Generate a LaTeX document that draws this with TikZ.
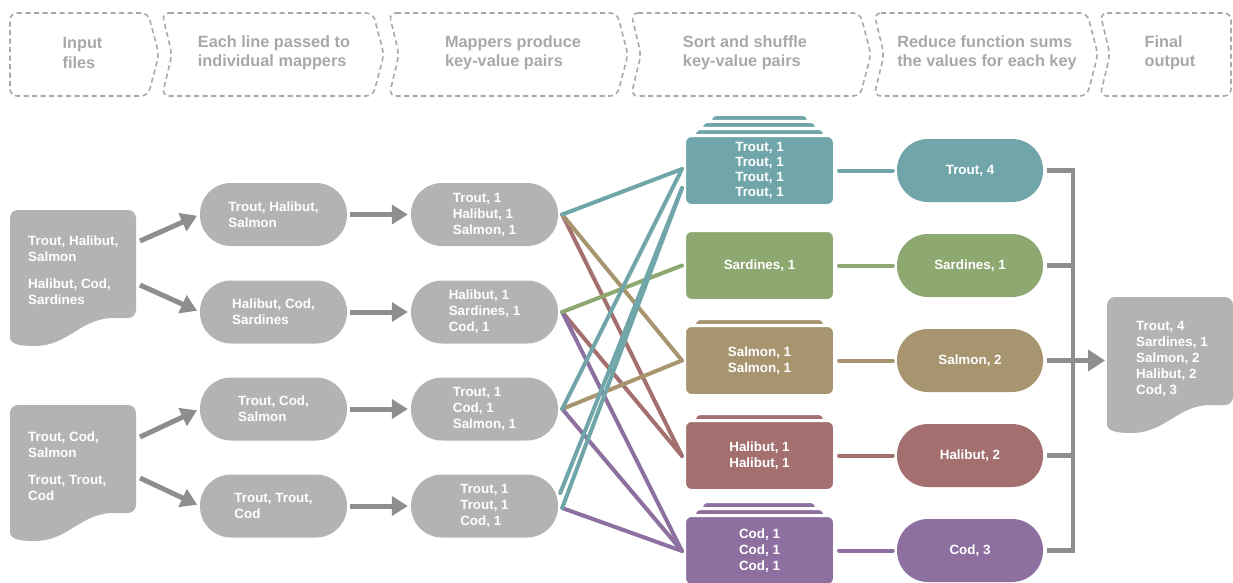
\documentclass[tikz,border=0pt]{standalone}
\usepackage{fontspec}
\setmainfont{Liberation Sans}
\usetikzlibrary{calc,arrows.meta}
\definecolor{ngray}{HTML}{B3B3B3}
\definecolor{agray}{HTML}{8E8E8E}
\definecolor{hgray}{HTML}{A8A8A8}
\definecolor{cteal}{HTML}{70A6AA}
\definecolor{cgreen}{HTML}{8DA870}
\definecolor{ctan}{HTML}{A6956F}
\definecolor{crose}{HTML}{A4706F}
\definecolor{cpurp}{HTML}{8D70A0}
\begin{document}
\begin{tikzpicture}[x=1pt,y=-1pt,
  hdr/.style={draw=hgray, line width=1.6pt, dash pattern=on 5pt off 3.5pt, rounded corners=7pt},
  hdrtext/.style={text=hgray, font=\fontsize{16.3}{19.5}\selectfont\bfseries, align=left, inner sep=0pt},
  nfont/.style={font=\fontsize{13.4}{16}\selectfont\bfseries},
  pill/.style={fill=ngray, rounded corners=31pt, minimum width=147pt, minimum height=63pt,
    text=white, nfont, align=left, inner sep=0pt},
  rpill/.style={fill=#1, rounded corners=31pt, minimum width=146pt, minimum height=63pt,
    text=white, nfont, align=center, inner sep=0pt},
  sbox/.style={fill=#1, draw=white, line width=3pt, rounded corners=7pt, minimum width=150pt,
    minimum height=70pt, text=white, nfont, align=center, inner sep=0pt},
  layer/.style={fill=#1, draw=white, line width=3pt, rounded corners=6pt},
  doctext/.style={text=white, nfont, align=left, inner sep=0pt},
  garrow/.style={draw=agray, line width=5pt, -{Triangle[length=16pt,width=19pt]}},
  cline/.style={draw=#1, line width=4pt, line cap=round},
  bline/.style={draw=agray, line width=4.5pt},
  docshape/.pic={\fill[ngray] (0,127) -- (0,8) .. controls (0,3.6) and (3.6,0) .. (8,0)
     -- (118,0) .. controls (122.4,0) and (126,3.6) .. (126,8)
     -- (126,100) .. controls (126,104.4) and (122.4,108) .. (118,108)
     -- (106,108) .. controls (70,107) and (60,136) .. (24,136)
     .. controls (9,136) and (0,134) .. (0,127) -- cycle;}
]
\useasboundingbox (0,0) rectangle (1233,583);

% header chevrons
\draw[hdr] (10,13) -- (148,13) -- (159,54.5) -- (148,96) -- (10,96) -- cycle;
\draw[hdr] (162,13) -- (373,13) -- (384,54.5) -- (373,96) -- (162,96) -- (172,54.5) -- cycle;
\draw[hdr] (389,13) -- (617,13) -- (628,54.5) -- (617,96) -- (389,96) -- (399,54.5) -- cycle;
\draw[hdr] (631,13) -- (860,13) -- (871,54.5) -- (860,96) -- (631,96) -- (641,54.5) -- cycle;
\draw[hdr] (874,13) -- (1087,13) -- (1098,54.5) -- (1087,96) -- (874,96) -- (884,54.5) -- cycle;
\draw[hdr] (1100,13) -- (1231,13) -- (1231,96) -- (1100,96) -- (1110,54.5) -- cycle;
\node[hdrtext] (h1) at (82.5,53) {Input\\files};
\node[hdrtext] (h2) at (274,53) {Each line passed to\\individual mappers};
\node[hdrtext] (h3) at (513,53) {Mappers produce\\key-value pairs};
\node[hdrtext] (h4) at (745,53) {Sort and shuffle\\key-value pairs};
\node[hdrtext] (h5) at (987,53) {Reduce function sums\\the values for each key};
\node[hdrtext] (h6) at (1170,53) {Final\\output};

% input documents
\pic at (10,210) {docshape};
\pic at (10,405) {docshape};
\pic at (1107,297) {docshape};
\node[doctext, anchor=west] (d1) at (28,270.5) {Trout, Halibut,\\Salmon\\[11pt]Halibut, Cod,\\Sardines};
\node[doctext, anchor=west] (d2) at (28,466) {Trout, Cod,\\Salmon\\[11pt]Trout, Trout,\\Cod};
\node[doctext, anchor=west] (out) at (1136,358.5) {Trout, 4\\Sardines, 1\\Salmon, 2\\Halibut, 2\\Cod, 3};

% split lines
\node[pill] (s1) at (273.5,214.5) {Trout, Halibut,\\Salmon};
\node[pill] (s2) at (273.5,312) {Halibut, Cod,\\Sardines};
\node[pill] (s3) at (273.5,409) {Trout, Cod,\\Salmon};
\node[pill] (s4) at (273.5,506) {Trout, Trout,\\Cod};

% mappers
\node[pill] (m1) at (484.5,214.5) {Trout, 1\\Halibut, 1\\Salmon, 1};
\node[pill] (m2) at (484.5,312) {Halibut, 1\\Sardines, 1\\Cod, 1};
\node[pill] (m3) at (484.5,409) {Trout, 1\\Cod, 1\\Salmon, 1};
\node[pill] (m4) at (484.5,506) {Trout, 1\\Trout, 1\\Cod, 1};

% arrows docs -> split
\coordinate (d1a) at (140,241);
\coordinate (d1b) at (140,285);
\coordinate (d2a) at (140,437);
\coordinate (d2b) at (140,478);
\draw[garrow, shorten >=3pt] (d1a) -- (s1.west);
\draw[garrow, shorten >=3pt] (d1b) -- (s2.west);
\draw[garrow, shorten >=3pt] (d2a) -- (s3.west);
\draw[garrow, shorten >=3pt] (d2b) -- (s4.west);
% arrows split -> mapper
\foreach \i in {1,2,3,4}{
  \draw[garrow, shorten <=3pt, shorten >=3pt] (s\i.east) -- (m\i.west);
}

% shuffle boxes with stacked layers
\fill[layer=cteal] (710.5,114.5) rectangle (808.5,140);
\fill[layer=cteal] (701.5,121.5) rectangle (816.5,145);
\fill[layer=cteal] (694.5,128.5) rectangle (824.5,150);
\node[sbox=cteal, font=\fontsize{13.4}{15}\selectfont\bfseries] (tr) at (759.5,170.5) {Trout, 1\\Trout, 1\\Trout, 1\\Trout, 1};
\node[sbox=cgreen] (sa) at (759.5,265.5) {Sardines, 1};
\fill[layer=ctan] (694.5,318.5) rectangle (824.5,340);
\node[sbox=ctan] (sl) at (759.5,360.5) {Salmon, 1\\Salmon, 1};
\fill[layer=crose] (694.5,413.5) rectangle (824.5,435);
\node[sbox=crose] (ha) at (759.5,455.5) {Halibut, 1\\Halibut, 1};
\fill[layer=cpurp] (701.5,501.5) rectangle (816.5,525);
\fill[layer=cpurp] (694.5,508.5) rectangle (824.5,530);
\node[sbox=cpurp] (co) at (759.5,550.5) {Cod, 1\\Cod, 1\\Cod, 1};

% reducers
\node[rpill=cteal] (rt) at (970,170.5) {Trout, 4};
\node[rpill=cgreen] (rsa) at (970,265.5) {Sardines, 1};
\node[rpill=ctan] (rsl) at (970,360.5) {Salmon, 2};
\node[rpill=crose] (rha) at (970,455.5) {Halibut, 2};
\node[rpill=cpurp] (rco) at (970,550.5) {Cod, 3};

% shuffle connector endpoints
\coordinate (m1o) at ($(m1.east)+(4,0)$);
\coordinate (m2o) at ($(m2.east)+(4,0)$);
\coordinate (m3o) at ($(m3.east)+(4,0)$);
\coordinate (m4a) at ($(m4.east)+(2,-13)$);
\coordinate (m4b) at ($(m4.east)+(4,2)$);
\coordinate (tri1) at ($(tr.west)+(-1,-1.5)$);
\coordinate (tri2) at ($(tr.west)+(-1,17.5)$);
\coordinate (sai) at ($(sa.west)+(-1,0)$);
\coordinate (sli) at ($(sl.west)+(-1,0)$);
\coordinate (hai) at ($(ha.west)+(-1,0.5)$);
\coordinate (coi) at ($(co.west)+(-1,0.5)$);

\draw[cline=crose] (m1o) -- (hai);
\draw[cline=crose] (m2o) -- (hai);
\draw[cline=ctan] (m1o) -- (sli);
\draw[cline=ctan] (m3o) -- (sli);
\draw[cline=cpurp] (m2o) -- (coi);
\draw[cline=cpurp] (m3o) -- (coi);
\draw[cline=cpurp] (m4b) -- (coi);
\draw[cline=cgreen] (m2o) -- (sai);
\draw[cline=cteal] (m1o) -- (tri1);
\draw[cline=cteal] (m3o) -- (tri1);
\draw[cline=cteal] (m4a) -- (tri2);
\draw[cline=cteal] (m4b) -- (tri2);

% shuffle -> reduce
\draw[cline=cteal, shorten <=3pt, shorten >=4pt] (tr.east) -- (rt.west);
\draw[cline=cgreen, shorten <=3pt, shorten >=4pt] (sa.east) -- (rsa.west);
\draw[cline=ctan, shorten <=3pt, shorten >=4pt] (sl.east) -- (rsl.west);
\draw[cline=crose, shorten <=3pt, shorten >=4pt] (ha.east) -- (rha.west);
\draw[cline=cpurp, shorten <=3pt, shorten >=4pt] (co.east) -- (rco.west);

% reduce -> output bus
\coordinate (bus) at (1073,0);
\coordinate (outin) at (1105,360.5);
\draw[bline, shorten <=4pt] (rt.east) -- (rt.east -| bus) -- (rco.east -| bus) -- ($(rco.east)+(4,0)$);
\draw[bline, shorten <=4pt] (rsa.east) -- (rsa.east -| bus);
\draw[bline, shorten <=4pt] (rsl.east) -- (rsl.east -| bus);
\draw[bline, shorten <=4pt] (rha.east) -- (rha.east -| bus);
\draw[draw=agray, line width=5pt, -{Triangle[length=17pt,width=21pt]}] (rsl.east -| bus) -- (outin);
\end{tikzpicture}
\end{document}
